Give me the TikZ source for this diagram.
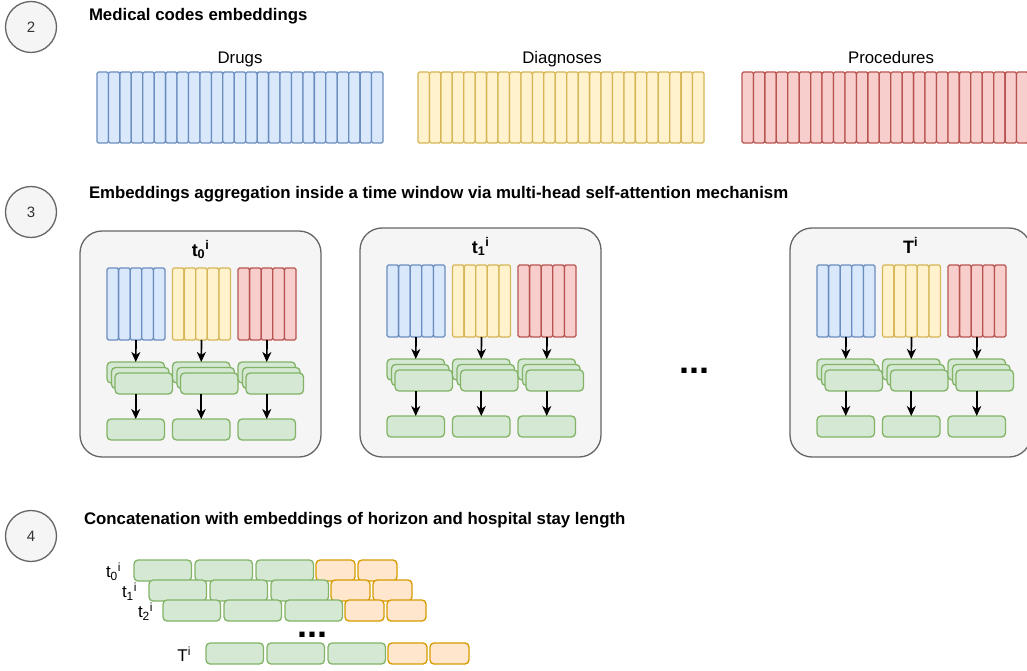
\documentclass[tikz,border=0pt]{standalone}
\usepackage{fontspec}
\setmainfont{Liberation Sans}
\usetikzlibrary{arrows.meta}

\definecolor{blueF}{HTML}{DAE8FC}\definecolor{blueD}{HTML}{6C8EBF}
\definecolor{yelF}{HTML}{FFF2CC}\definecolor{yelD}{HTML}{D6B656}
\definecolor{redF}{HTML}{F8CECC}\definecolor{redD}{HTML}{B85450}
\definecolor{grnF}{HTML}{D5E8D4}\definecolor{grnD}{HTML}{82B366}
\definecolor{orgF}{HTML}{FFE6CC}\definecolor{orgD}{HTML}{D79B00}
\definecolor{greyF}{HTML}{F5F5F5}\definecolor{greyD}{HTML}{666666}

% one time window: name, left x, top y, title
\newcommand\timewindow[4]{%
  \node[win, minimum height={457-#3}] (#1) at (#2,#3) {};
  \node[wintitle] (#1-title) at ({#2+120.5},{#3+25}) {#4};
  \foreach \cat/\fc/\dc [count=\j from 0] in {drg/blueF/blueD,dia/yelF/yelD,pro/redF/redD}{%
    \pgfmathsetmacro\bx{#2+27+65.5*\j}
    \node[blk] (#1-\cat) at (\bx,{#3+37}) {};
    \foreach \k in {0,...,4}{%
      \node[cell, minimum width=11.6pt, minimum height=72pt, fill=\fc, draw=\dc]
        (#1-\cat-\k) at ({\bx+11.6*\k},{#3+37}) {};
    }
    \node[emb] (#1-\cat-h1) at (\bx,{#3+131}) {};
    \node[emb] (#1-\cat-h2) at ({\bx+4.5},{#3+136.5}) {};
    \node[emb] (#1-\cat-h3) at ({\bx+8},{#3+142}) {};
    \node[emb] (#1-\cat-out) at (\bx,{#3+188}) {};
    \draw[flow] (#1-\cat.south) -- (#1-\cat-h1.north);
    \draw[flow] (#1-\cat-h3.south -| #1-\cat-out.north) -- (#1-\cat-out.north);
  }%
}

% one concatenated row: name, left x, top y, label, label right edge
\newcommand\concatrow[5]{%
  \node[emb] (#1-g1) at (#2,#3) {};
  \node[emb] (#1-g2) at ({#2+61},#3) {};
  \node[emb] (#1-g3) at ({#2+122},#3) {};
  \node[extra] (#1-o1) at ({#2+182},#3) {};
  \node[extra] (#1-o2) at ({#2+224},#3) {};
  \node[rowlabel] (#1-lbl) at (#5,{#3+11.5}) {#4};
}

\begin{document}
\begin{tikzpicture}[x=1pt, y=-1pt, line width=1.3pt,
  every node/.style={inner sep=0pt, outer sep=0pt},
  numcirc/.style={circle, draw=greyD, fill=greyF, minimum size=51pt,
    text=black!80, font=\fontsize{15}{18}\selectfont},
  heading/.style={anchor=base west, font=\fontsize{16.8}{20}\selectfont\bfseries},
  barlabel/.style={anchor=base, font=\fontsize{16.8}{20}\selectfont},
  cell/.style={rectangle, rounded corners=1.5pt, anchor=north west},
  blk/.style={rectangle, anchor=north west, minimum width=58pt, minimum height=72pt},
  win/.style={rectangle, rounded corners=22pt, draw=greyD, fill=greyF,
    minimum width=241pt, anchor=north west},
  wintitle/.style={anchor=base, font=\fontsize{18}{20}\selectfont\bfseries},
  emb/.style={rectangle, rounded corners=4pt, draw=grnD, fill=grnF,
    minimum width=57.5pt, minimum height=21pt, anchor=north west},
  extra/.style={emb, draw=orgD, fill=orgF, minimum width=39pt},
  rowlabel/.style={anchor=east, font=\fontsize{17}{20}\selectfont},
  flow/.style={-{Stealth[length=10pt,width=9pt,inset=3pt]}, line width=1.7pt, black},
  dots/.style={anchor=base, font=\fontsize{36}{36}\selectfont\bfseries},
]
\useasboundingbox (0,0) rectangle (1027,671);
\fill[white] (0,0) rectangle (1027,671);

% ---- step 2: code embeddings
\node[numcirc] (n2) at (31,27) {2};
\node[heading] (h2) at (89,21) {Medical codes embeddings};

\node[barlabel] (drugs-lbl) at (240,64) {Drugs};
\node[barlabel] (diag-lbl) at (562,64) {Diagnoses};
\node[barlabel] (proc-lbl) at (891,64) {Procedures};
\foreach \k in {0,...,24}{%
  \node[cell, minimum width=11.44pt, minimum height=71pt, fill=blueF, draw=blueD]
    (drugs-\k) at ({97+11.44*\k},72) {};
  \node[cell, minimum width=11.44pt, minimum height=71pt, fill=yelF, draw=yelD]
    (diag-\k) at ({418+11.44*\k},72) {};
  \node[cell, minimum width=11.44pt, minimum height=71pt, fill=redF, draw=redD]
    (proc-\k) at ({742+11.44*\k},72) {};
}

% ---- step 3: aggregation per time window
\node[numcirc] (n3) at (31,212) {3};
\node[heading] (h3) at (89,198)
  {Embeddings aggregation inside a time window via multi-head self-attention mechanism};

\timewindow{w0}{80}{231}{t\textsubscript{0}\textsuperscript{i}}
\timewindow{w1}{360}{228}{t\textsubscript{1}\textsuperscript{i}}
\timewindow{wT}{790}{228}{T\textsuperscript{i}}
\node[dots] (wdots) at (694,373) {...};

% ---- step 4: concatenation
\node[numcirc] (n4) at (31,536) {4};
\node[heading] (h4) at (84,524)
  {Concatenation with embeddings of horizon and hospital stay length};

\concatrow{r0}{134}{560}{t\textsubscript{0}\textsuperscript{i}}{121}
\concatrow{r1}{149}{580}{t\textsubscript{1}\textsuperscript{i}}{137}
\concatrow{r2}{163}{600}{t\textsubscript{2}\textsuperscript{i}}{153}
\concatrow{rT}{206}{643}{T\textsuperscript{i}}{191}
\node[dots] (rdots) at (312,637) {...};
\end{tikzpicture}
\end{document}
